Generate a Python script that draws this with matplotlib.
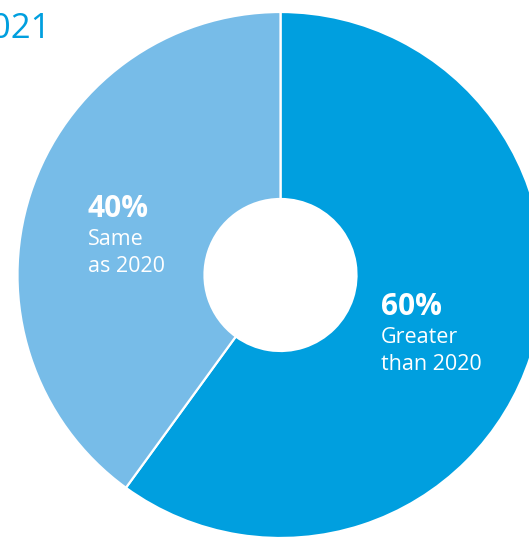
import matplotlib
matplotlib.use("Agg")
import matplotlib.pyplot as plt

# Share of respondents expecting 2021 compared with 2020
categories = ["Greater\nthan 2020", "Same\nas 2020"]
shares = [60, 40]
colors = ["#009FDF", "#77BCE8"]
title = "2021"

W, H = 529, 537
fig = plt.figure(figsize=(W / 100, H / 100), dpi=100)
ax = fig.add_axes([0, 0, 1, 1])

cx, cy = 280.5, H - 275
R, r = 263, 76
ax.pie(shares, colors=colors, startangle=90, counterclock=False,
       center=(cx, cy), radius=R, frame=True,
       wedgeprops=dict(width=R - r, edgecolor="white", linewidth=1.6))
ax.set_xlim(0, W)
ax.set_ylim(0, H)
ax.set_aspect("equal")
ax.axis("off")

font = "Open Sans"
white = "white"

# value labels inside the ring
label_pos = [(381, H - 315), (88, H - 217)]
for (x, y), val, cat in zip(label_pos, shares, categories):
    ax.text(x, y, f"{val}%", color=white, fontsize=21.5, fontweight="bold",
            family=font, ha="left", va="baseline")
    for i, line in enumerate(cat.split("\n")):
        ax.text(x, y - 28 - 27 * i, line, color=white, fontsize=15.5,
                family=font, ha="left", va="baseline")

ax.text(51, H - 38, title, color="#009FDF", fontsize=25, family=font,
        ha="right", va="baseline")

fig.savefig("out.png", dpi=100)
